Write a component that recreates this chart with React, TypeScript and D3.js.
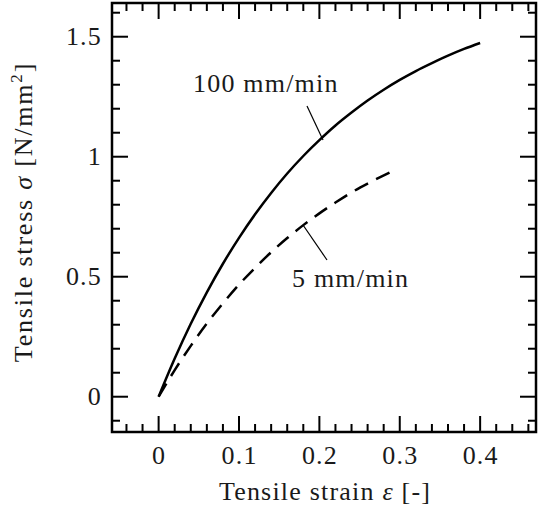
import React from "react";
import * as d3 from "d3";

const strainFast = [0, 0.02, 0.04, 0.06, 0.08, 0.1, 0.12, 0.14, 0.16, 0.18, 0.2, 0.22, 0.24, 0.26, 0.28, 0.3, 0.32, 0.34, 0.36, 0.38, 0.4];
const stressFast = [0, 0.159, 0.304, 0.435, 0.554, 0.662, 0.76, 0.849, 0.93, 1.003, 1.069, 1.13, 1.184, 1.234, 1.279, 1.32, 1.357, 1.39, 1.421, 1.449, 1.474];
const strainSlow = [0, 0.02, 0.04, 0.06, 0.08, 0.1, 0.12, 0.14, 0.16, 0.18, 0.2, 0.22, 0.24, 0.26, 0.288];
const stressSlow = [0, 0.111, 0.212, 0.305, 0.389, 0.467, 0.537, 0.602, 0.661, 0.715, 0.764, 0.809, 0.851, 0.888, 0.935];
const xTicks = [0, 0.1, 0.2, 0.3, 0.4];
const xTickLabels = ["0", "0.1", "0.2", "0.3", "0.4"];
const yTicks = [0, 0.5, 1, 1.5];
const yTickLabels = ["0", "0.5", "1", "1.5"];

const W = 538, H = 514;
const L = 112, R = 536, T = 3, B = 432;
const FONT = "'Liberation Serif', 'Times New Roman', serif";

export default function App() {
  const x = d3.scaleLinear().domain([-0.058, 0.4695]).range([L, R]);
  const y = d3.scaleLinear().domain([-0.147, 1.6405]).range([B, T]);
  const xMinor = d3.range(-0.04, 0.4701, 0.02).filter(v => !xTicks.some(t => Math.abs(t - v) < 1e-6));
  const yMinor = d3.range(-0.1, 1.6401, 0.1).filter(v => !yTicks.some(t => Math.abs(t - v) < 1e-6));
  const line = d3.line<[number, number]>().x(d => x(d[0])).y(d => y(d[1])).curve(d3.curveMonotoneX);
  const fast = strainFast.map((s, i) => [s, stressFast[i]] as [number, number]);
  const slow = strainSlow.map((s, i) => [s, stressSlow[i]] as [number, number]);
  const major = 16, minor = 8;
  return (
    <svg width={W} height={H} style={{ position: "absolute", left: 0, top: 0 }}>
      <rect width={W} height={H} fill="white" />
      <g stroke="#000" strokeWidth={2}>
        {xTicks.map(t => (
          <g key={"xt" + t}>
            <line x1={x(t)} x2={x(t)} y1={B} y2={B - major} />
            <line x1={x(t)} x2={x(t)} y1={T} y2={T + major} />
          </g>
        ))}
        {xMinor.map(t => (
          <g key={"xm" + t}>
            <line x1={x(t)} x2={x(t)} y1={B} y2={B - minor} />
            <line x1={x(t)} x2={x(t)} y1={T} y2={T + minor} />
          </g>
        ))}
        {yTicks.map(t => (
          <g key={"yt" + t}>
            <line x1={L} x2={L + major} y1={y(t)} y2={y(t)} />
            <line x1={R} x2={R - major} y1={y(t)} y2={y(t)} />
          </g>
        ))}
        {yMinor.map(t => (
          <g key={"ym" + t}>
            <line x1={L} x2={L + minor} y1={y(t)} y2={y(t)} />
            <line x1={R} x2={R - minor} y1={y(t)} y2={y(t)} />
          </g>
        ))}
      </g>
      <path d={line(fast) || ""} fill="none" stroke="#000" strokeWidth={2.5} />
      <path d={line(slow) || ""} fill="none" stroke="#000" strokeWidth={2.5} strokeDasharray="15,9" />
      <rect x={L} y={T} width={R - L} height={B - T} fill="none" stroke="#000" strokeWidth={2.5} />
      <g fontFamily={FONT} fontSize={26} fill="#1a1a1a" letterSpacing={1.2}>
        {xTicks.map((t, i) => (
          <text key={"xl" + t} x={x(t) + 0.6} y={464} textAnchor="middle">{xTickLabels[i]}</text>
        ))}
        {yTicks.map((t, i) => (
          <text key={"yl" + t} x={102} y={y(t) + 8} textAnchor="end">{yTickLabels[i]}</text>
        ))}
        <text x={(L + R) / 2 + 1} y={500} textAnchor="middle">
          Tensile strain <tspan fontStyle="italic">ε</tspan> [-]
        </text>
        <text transform={`translate(32, 212) rotate(-90)`} textAnchor="middle" letterSpacing={1.8}>
          Tensile stress <tspan fontStyle="italic">σ</tspan> [N/mm<tspan fontSize={17} dy={-10}>2</tspan><tspan dy={10}>]</tspan>
        </text>
        <text x={193} y={92}>100 mm/min</text>
        <text x={292} y={287}>5 mm/min</text>
      </g>
      <line x1={307} y1={106} x2={323} y2={140} stroke="#000" strokeWidth={1.2} />
      <line x1={303} y1={225} x2={327} y2={260} stroke="#000" strokeWidth={1.2} />
    </svg>
  );
}
